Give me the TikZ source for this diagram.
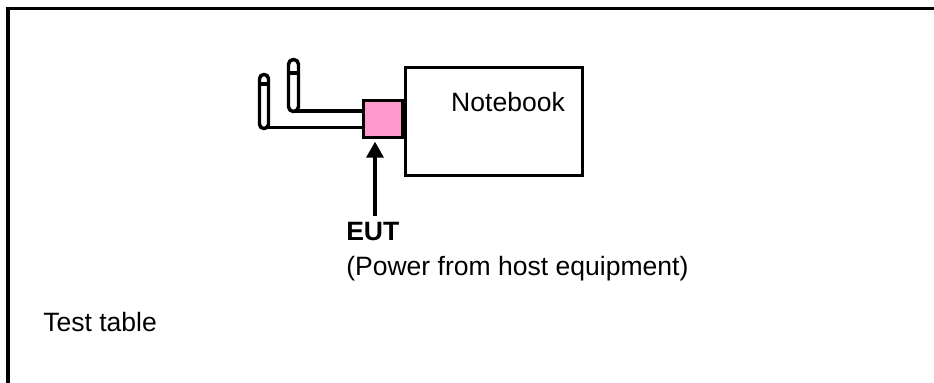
\documentclass[tikz,border=0pt]{standalone}
\usepackage{fontspec}
\setmainfont{Liberation Sans}
\usepackage{tikz}
\usetikzlibrary{calc,arrows.meta,positioning}
\definecolor{eutPink}{RGB}{255,153,204}
\definecolor{tblBlack}{RGB}{0,0,0}

\begin{document}
\begin{tikzpicture}[x=0.75pt,y=-0.75pt,
    lbl/.style={inner sep=0pt, font=\fontsize{19.9}{24}\selectfont},
    boxline/.style={draw=tblBlack, line width=2.6pt},
    prong/.style={draw=tblBlack, line width=2.6pt, fill=white, line join=round},
    wire/.style={draw=tblBlack, line width=2.6pt}]
    \useasboundingbox (0,0) rectangle (934,382);

    % table edge
    \draw[tblBlack, line width=2.6pt] (8,384) -- (8,8.5) -- (936,8.5);

    % notebook and EUT
    \node[boxline, fill=white, minimum width=132.5pt, minimum height=80.7pt, inner sep=0pt] (notebook) at (494,121.5) {};
    \node[boxline, fill=eutPink, minimum width=29pt, minimum height=27.4pt, inner sep=0pt] (plug) at (383,119) {};

    % plug wires and prongs
    \coordinate (leftend) at (264,127.5);
    \coordinate (rightend) at (293,111);
    \draw[wire] (leftend) -- (leftend -| plug.west);
    \draw[wire] (rightend) -- (rightend -| plug.west);
    \draw[prong, rounded corners=3.2pt] (259.5,74.5) rectangle (268.5,128.5);
    \draw[wire] (259.5,84) -- (268.5,84);
    \draw[prong, rounded corners=3.6pt] (288.5,59.5) rectangle (298.5,111.5);
    \draw[wire] (288.5,73) -- (298.5,73);

    % labels
    \node[lbl, anchor=base] (nbname) at (508,111) {Notebook};
    \node[lbl, anchor=base west] (eutname) at (346,240) {\bfseries EUT};
    \node[lbl, anchor=base west] (eutnote) at (346,275) {(Power from host equipment)};
    \node[lbl, anchor=base west] (tablename) at (43,331) {Test table};

    % pointer to EUT
    \coordinate (tail) at (375,216);
    \draw[tblBlack, line width=2.6pt, -{Triangle[length=12pt,width=12.75pt]}, shorten >=2pt]
        (tail) -- (plug.south -| tail);
\end{tikzpicture}
\end{document}
